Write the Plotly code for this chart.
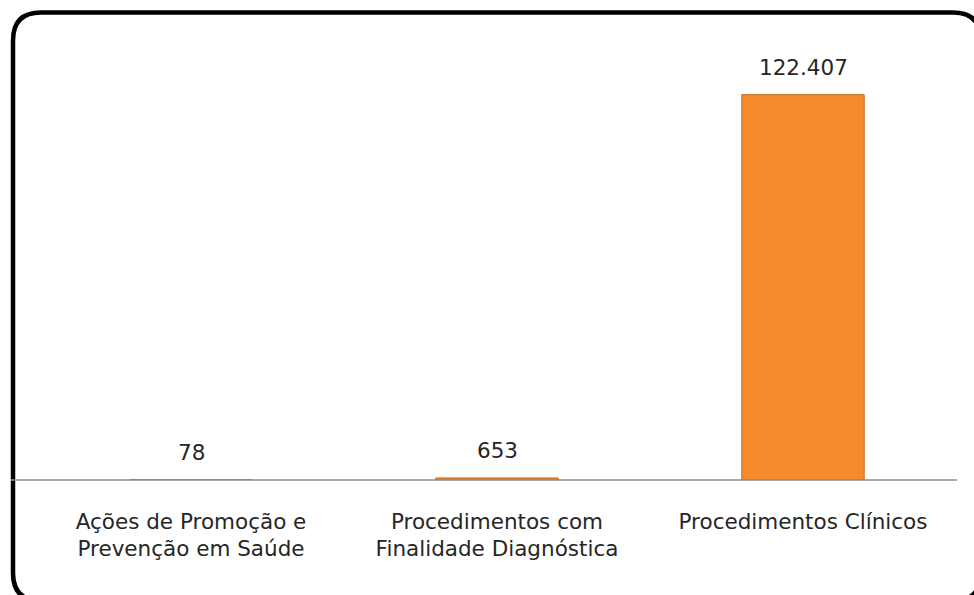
import plotly.graph_objects as go

categories = ["Ações de Promoção e<br>Prevenção em Saúde",
              "Procedimentos com<br>Finalidade Diagnóstica",
              "Procedimentos Clínicos"]
values = [78, 653, 122407]
value_labels = ["78", "653", "122.407"]

W, H = 974, 595
ml, mr, mt, mb = 38, 18, 55, 115
pw, ph = W - ml - mr, H - mt - mb

def px(x):
    return (x - ml) / pw

def py(y):
    return (H - mb - y) / ph

TXT = "#262626"
fig = go.Figure()
fig.add_trace(go.Bar(
    x=categories, y=values,
    marker=dict(color="#F58C2C", line=dict(color="#C46A1C", width=1)),
    width=0.4, hoverinfo="x+y",
))
for c, v, t in zip(categories, values, value_labels):
    fig.add_annotation(x=c, y=v, text=t, showarrow=False, yshift=27,
                       font=dict(size=21.5, color=TXT))

# rounded border
x0, x1, y0, y1, r = 13, 981, 12.5, 601, 28
rx, ry = r / pw, r / ph
X0, X1, Y0, Y1 = px(x0), px(x1), py(y0), py(y1)
path = (f"M {X0+rx} {Y0} L {X1-rx} {Y0} Q {X1} {Y0} {X1} {Y0-ry} "
        f"L {X1} {Y1+ry} Q {X1} {Y1} {X1-rx} {Y1} "
        f"L {X0+rx} {Y1} Q {X0} {Y1} {X0} {Y1+ry} "
        f"L {X0} {Y0-ry} Q {X0} {Y0} {X0+rx} {Y0} Z")
fig.add_shape(type="path", path=path, xref="paper", yref="paper",
              line=dict(color="black", width=4.5), layer="above")
# baseline
fig.add_shape(type="line", xref="paper", yref="paper",
              x0=px(11), x1=px(957), y0=0, y1=0,
              line=dict(color="#8c8c8c", width=1.5))

fig.update_layout(
    width=W, height=H,
    margin=dict(l=ml, r=mr, t=mt, b=mb),
    paper_bgcolor="white", plot_bgcolor="white",
    font=dict(family="DejaVu Sans", size=21, color=TXT),
    showlegend=False,
    xaxis=dict(showline=False, showgrid=False, ticks="",
               tickfont=dict(size=21.5, color=TXT), ticklabelstandoff=26),
    yaxis=dict(visible=False, range=[0, 135000]),
)
fig.write_html("out.html",
               config={"displayModeBar": False},
               post_script="document.body.style.margin='0';"
                           "document.body.style.overflow='hidden';")
